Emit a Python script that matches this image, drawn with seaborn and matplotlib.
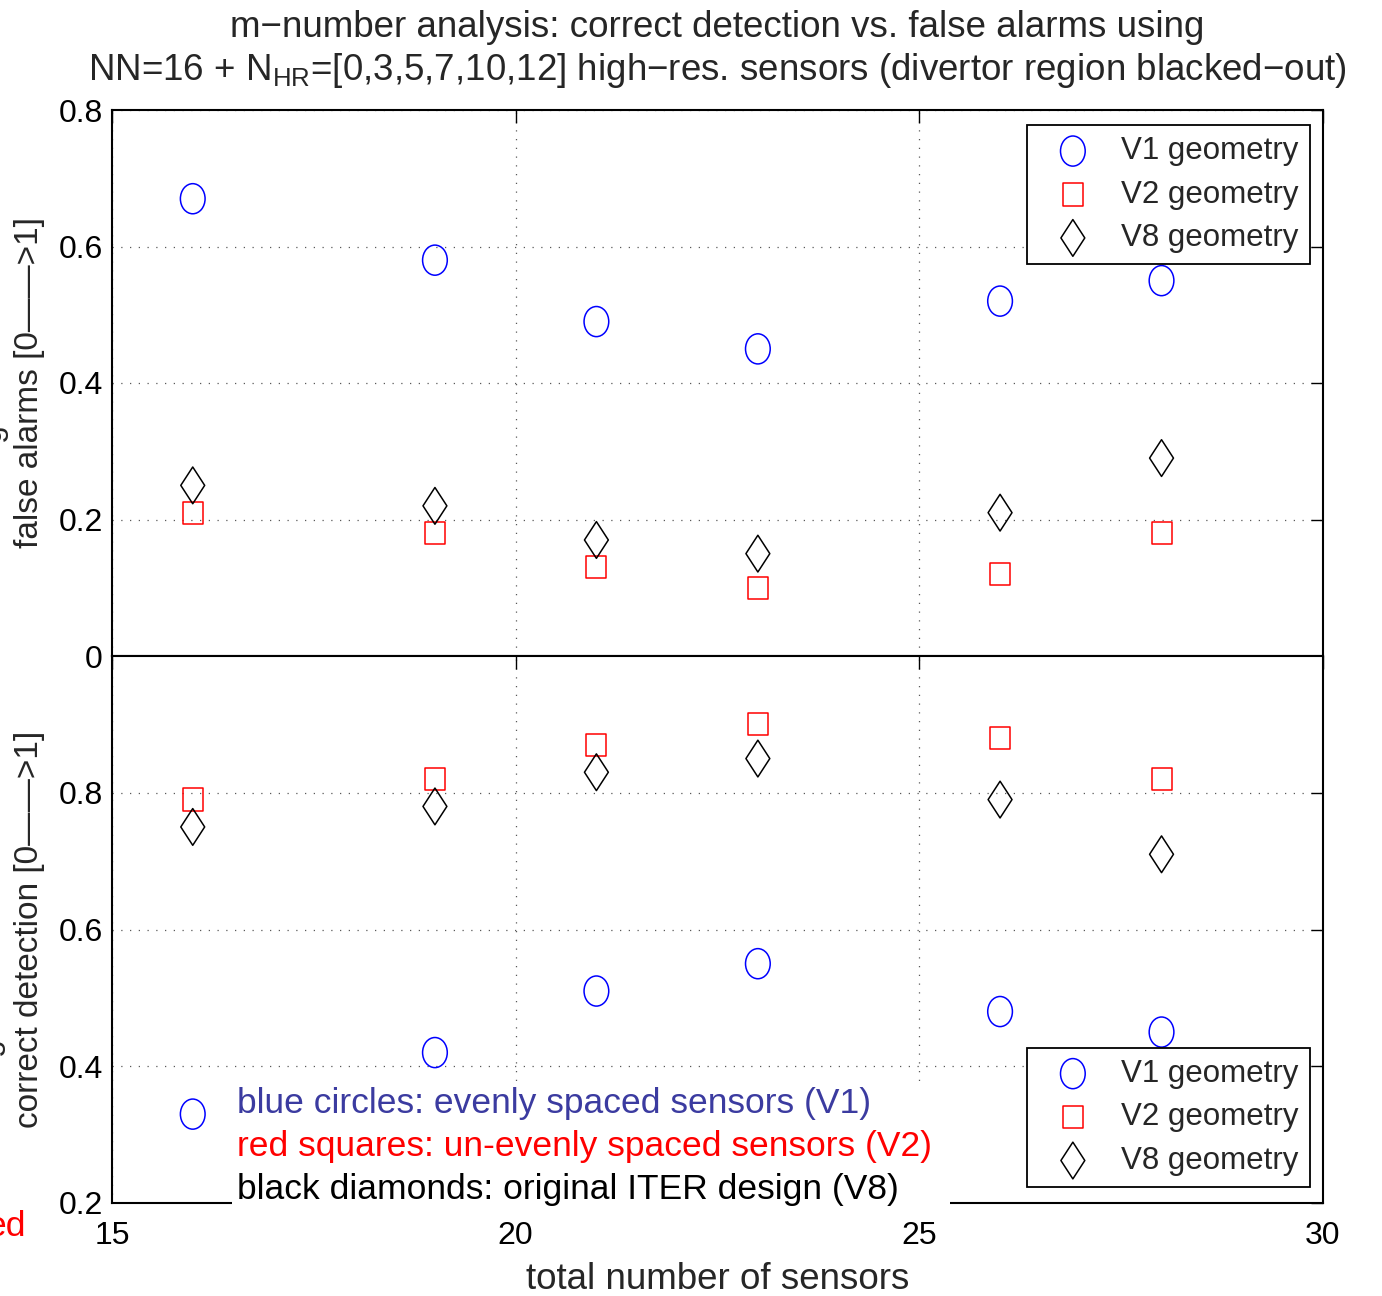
import matplotlib
matplotlib.use("Agg")
import matplotlib.pyplot as plt
from matplotlib.path import Path
from matplotlib.markers import MarkerStyle
from matplotlib.patches import Rectangle
import numpy as np
import pandas as pd
import seaborn as sns

# ---- data -------------------------------------------------------------
n_sensors = [16, 19, 21, 23, 26, 28]
geometry_labels = ["V1 geometry", "V2 geometry", "V8 geometry"]

false_v1 = [0.67, 0.58, 0.49, 0.45, 0.52, 0.55]
false_v2 = [0.21, 0.18, 0.13, 0.10, 0.12, 0.18]
false_v8 = [0.25, 0.22, 0.17, 0.15, 0.21, 0.29]

correct_v1 = [0.33, 0.42, 0.51, 0.55, 0.48, 0.45]
correct_v2 = [0.79, 0.82, 0.87, 0.90, 0.88, 0.82]
correct_v8 = [0.75, 0.78, 0.83, 0.85, 0.79, 0.71]

x_ticks = [15, 20, 25, 30]
false_ticks = [0, 0.2, 0.4, 0.6, 0.8]
false_ticklabels = ["0", "0.2", "0.4", "0.6", "0.8"]
correct_ticks = [0.2, 0.4, 0.6, 0.8]
correct_ticklabels = ["0.2", "0.4", "0.6", "0.8"]

title_line1 = "m\u2212number analysis: correct detection vs. false alarms using"
title_line2 = ("NN=16 + N$_{\\mathrm{HR}}$=[0,3,5,7,10,12] high\u2212res. sensors "
               "(divertor region blacked\u2212out)")
note_lines = ["blue circles: evenly spaced sensors (V1)",
              "red squares: un-evenly spaced sensors (V2)",
              "black diamonds: original ITER design (V8)"]
note_colors = ["#3b3ba0", "#ff0000", "#000000"]

# ---- style ------------------------------------------------------------
sns.set_style("white")
FONT = ["Liberation Sans", "DejaVu Sans"]
plt.rcParams["font.family"] = FONT
plt.rcParams["mathtext.fontset"] = "custom"
plt.rcParams["mathtext.rm"] = "Liberation Sans"
plt.rcParams["mathtext.it"] = "Liberation Sans"
plt.rcParams["axes.unicode_minus"] = True

W, H = 1382, 1296
fig = plt.figure(figsize=(W / 100, H / 100), dpi=100)
fig.patch.set_facecolor("white")

L, R = 112, 1323
ax_top = fig.add_axes([L / W, 1 - 656 / H, (R - L) / W, 546 / H])
ax_bot = fig.add_axes([L / W, 1 - 1203 / H, (R - L) / W, 547 / H])


def outline(verts):
    verts = np.asarray(verts + [verts[0]], dtype=float)
    return MarkerStyle(Path(verts, closed=True))


circ = Path.unit_circle()
m_circle = MarkerStyle(Path(circ.vertices * np.array([0.82, 1.0]), circ.codes))
m_square = outline([(-0.9, -1), (0.9, -1), (0.9, 1), (-0.9, 1)])
m_diamond = outline([(0, 1), (0.65, 0), (0, -1), (-0.65, 0)])

series_style = [
    dict(marker=m_circle, color="#0000ff", s=470),
    dict(marker=m_square, color="#ff0000", s=255),
    dict(marker=m_diamond, color="#000000", s=700),
]

panels = [
    (ax_top, [false_v1, false_v2, false_v8], (0, 0.8), false_ticks, false_ticklabels,
     "false alarms [0\u2014\u2014>1]"),
    (ax_bot, [correct_v1, correct_v2, correct_v8], (0.2, 1.0), correct_ticks,
     correct_ticklabels, "correct detection [0\u2014\u2014>1]"),
]

for ax, values, ylim, yt, ytl, ylab in panels:
    for vals, label, st in zip(values, geometry_labels, series_style):
        df = pd.DataFrame({"sensors": n_sensors, "value": vals})
        sns.scatterplot(data=df, x="sensors", y="value", ax=ax, marker=st["marker"],
                        s=st["s"], facecolor="none", edgecolor=st["color"],
                        linewidth=1.1, label=label, zorder=3)
    ax.set_xlim(15, 30)
    ax.set_ylim(*ylim)
    ax.set_xticks(x_ticks)
    ax.set_yticks(yt)
    ax.set_yticklabels(ytl)
    ax.grid(True, linestyle=(0, (1, 6)), color="0.35", linewidth=0.9)
    ax.set_axisbelow(True)
    ax.tick_params(direction="in", length=9, width=1.0, top=True, right=True,
                   labelsize=23, colors="black")
    ax.tick_params(axis="y", pad=6.5)
    for sp in ax.spines.values():
        sp.set_visible(True)
        sp.set_linewidth(1.5)
        sp.set_color("black")
    ax.set_ylabel(ylab, fontsize=24)
    ax.yaxis.set_label_coords(-0.0555, 0.5)
    ax.set_xlabel("")

ax_top.tick_params(labelbottom=False)
ax_bot.set_xticklabels([str(t) for t in x_ticks])
ax_bot.tick_params(axis="x", pad=13)
ax_bot.set_xlabel("total number of sensors", fontsize=26.5, va="top")
ax_bot.xaxis.set_label_coords(0.5, -0.107)

# legends
for ax, loc, anchor in [(ax_top, "upper right", (0.9893, 0.9725)),
                        (ax_bot, "lower right", (0.9893, 0.0293))]:
    h, lab = ax.get_legend_handles_labels()
    leg = ax.legend(h, lab, loc=loc, bbox_to_anchor=anchor, borderaxespad=0,
                    fancybox=False, framealpha=1, edgecolor="black",
                    prop=dict(size=22.5), scatterpoints=1,
                    handlelength=2.2, handletextpad=0.45, borderpad=0.36,
                    labelspacing=0.43)
    leg.get_frame().set_linewidth(1.3)

# title
fig.text(717 / W, 1 - 37 / H, title_line1, ha="center", va="baseline", fontsize=26.5)
fig.text(717 / W, 1 - 80 / H, title_line2, ha="center", va="baseline", fontsize=26.5)

# explanatory note over the lower panel
fig.add_artist(Rectangle((232 / W, 1 - 1212 / H), (950 - 232) / W, (1212 - 1084) / H,
                         transform=fig.transFigure, facecolor="white",
                         edgecolor="none", zorder=10))
for i, (txt, col) in enumerate(zip(note_lines, note_colors)):
    fig.text(237 / W, 1 - (1104 + 42.5 * i) / H, txt, color=col, ha="left",
             va="center", fontsize=25.5, zorder=11)

# label fragments at the left border
fig.text(26 / W, 1 - 1227 / H, "ed", color="#ff0000", ha="right", va="center",
         fontsize=25.5)
fig.text(8 / W, 1 - 433 / H, "g", rotation=90, ha="right", va="center", fontsize=23)
fig.text(5 / W, 1 - 1047 / H, "g", rotation=90, ha="right", va="center", fontsize=23)

fig.savefig("out.png", dpi=100, facecolor="white")
